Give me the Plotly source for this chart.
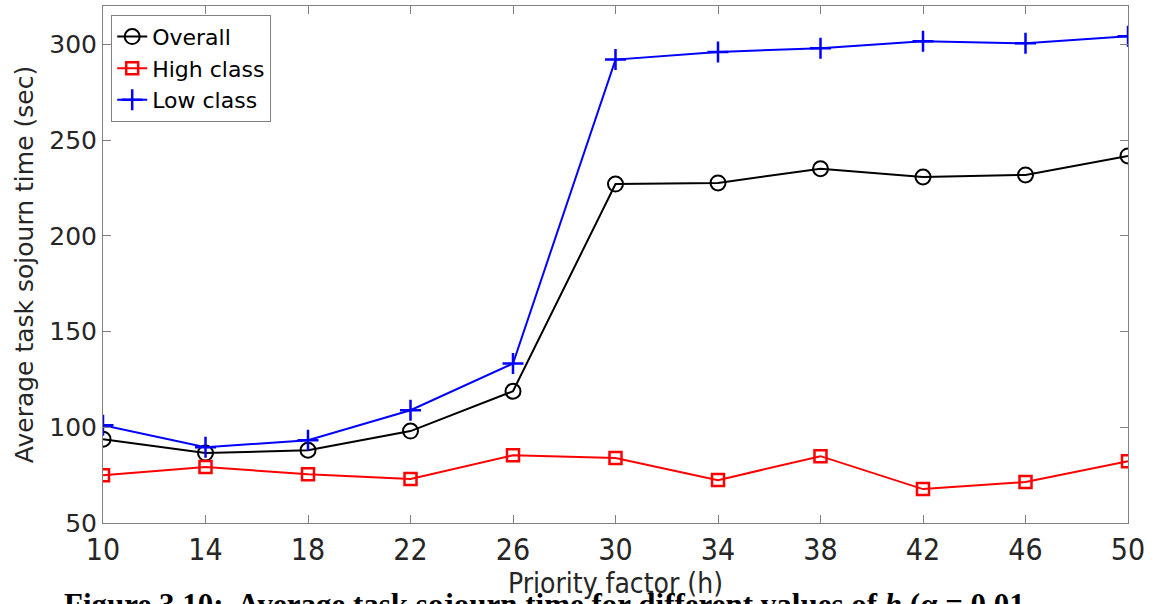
import plotly.graph_objects as go

h_values = [10, 14, 18, 22, 26, 30, 34, 38, 42, 46, 50]
overall = [93.8, 86.5, 88.0, 98.0, 118.8, 227.0, 227.6, 235.0, 230.7, 231.8, 241.7]
high_class = [75.0, 79.2, 75.5, 73.0, 85.4, 83.9, 72.4, 84.9, 67.7, 71.4, 82.3]
low_class = [101.0, 89.6, 93.2, 108.9, 133.3, 292.0, 296.0, 298.0, 301.6, 300.5, 304.2]
x_ticks = [10, 14, 18, 22, 26, 30, 34, 38, 42, 46, 50]
y_ticks = [50, 100, 150, 200, 250, 300]

fig = go.Figure()
fig.add_trace(go.Scatter(x=h_values, y=overall, name="Overall", mode="lines+markers",
                         line=dict(color="black", width=2),
                         marker=dict(symbol="circle-open", size=15, color="black", line=dict(width=2))))
fig.add_trace(go.Scatter(x=h_values, y=high_class, name="High class", mode="lines+markers",
                         line=dict(color="red", width=2),
                         marker=dict(symbol="square-open", size=12, color="red", line=dict(width=2.5))))
fig.add_trace(go.Scatter(x=h_values, y=low_class, name="Low class", mode="lines+markers",
                         line=dict(color="blue", width=2),
                         marker=dict(symbol="cross-thin-open", size=15, color="blue", line=dict(width=2.5, color="blue"))))

axis_common = dict(showline=True, linecolor="#808080", linewidth=1, mirror="ticks",
                   ticks="inside", ticklen=8, tickcolor="#808080", showgrid=False, zeroline=False,
                   automargin=False)

fig.update_xaxes(range=[10, 50], tickvals=x_ticks,
                 tickfont=dict(family="DejaVu Sans Condensed, DejaVu Sans", size=30, color="#262626"),
                 title=dict(text="Priority factor (h)", standoff=2,
                            font=dict(family="DejaVu Sans Condensed, DejaVu Sans", size=28, color="#262626")),
                 **axis_common)
fig.update_yaxes(range=[50, 320], tickvals=y_ticks,
                 tickfont=dict(family="DejaVu Sans", size=25, color="#262626"),
                 title=dict(text="Average task sojourn time (sec)", standoff=8,
                            font=dict(family="DejaVu Sans", size=25, color="#262626")),
                 **axis_common)

fig.add_annotation(xref="paper", yref="paper", x=-0.04, y=-0.12, xanchor="left", yanchor="top",
                   showarrow=False, align="left",
                   text="<b>Figure 3.10:  Average task sojourn time for different values of <i>h</i> (α = 0.01,</b>",
                   font=dict(family="Liberation Serif", size=31, color="black"))

fig.update_layout(
    width=1160, height=604,
    margin=dict(l=103, r=32, t=6, b=81),
    paper_bgcolor="white", plot_bgcolor="white",
    showlegend=True,
    legend=dict(x=0.008, y=0.983, xanchor="left", yanchor="top",
                bgcolor="white", bordercolor="#808080", borderwidth=1,
                font=dict(family="DejaVu Sans", size=22, color="black"),
                tracegroupgap=0, itemwidth=30),
)

fig.write_html("out.html", config={"displayModeBar": False},
               post_script="document.body.style.margin='0';document.body.style.overflow='hidden';")
